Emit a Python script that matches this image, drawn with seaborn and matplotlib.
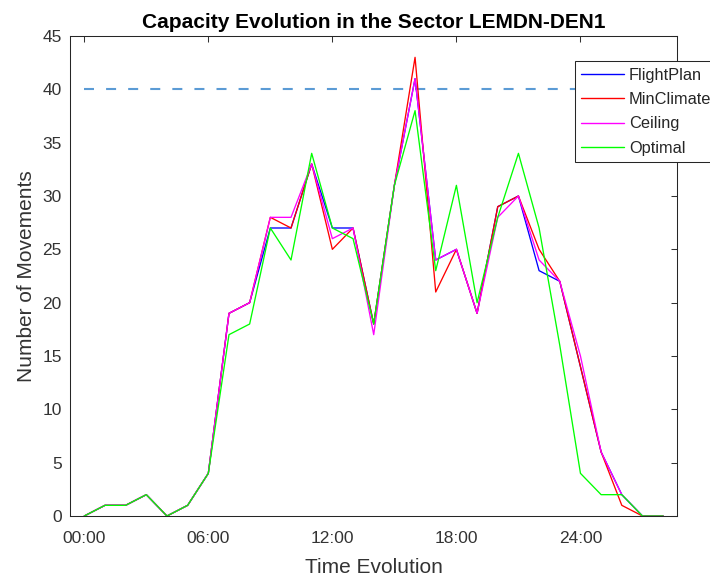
import numpy as np
import pandas as pd
import matplotlib
matplotlib.use("Agg")
import matplotlib.pyplot as plt
import seaborn as sns

# ---- data ----
hours = list(range(0, 29))
flight_plan = [0, 1, 1, 2, 0, 1, 4, 19, 20, 27, 27, 33, 27, 27, 18, 31, 41, 24, 25, 19, 29, 30, 23, 22, 14, 6, 2, 0, 0]
min_climate = [0, 1, 1, 2, 0, 1, 4, 19, 20, 28, 27, 33, 25, 27, 18, 31, 43, 21, 25, 19, 29, 30, 25, 22, 14, 6, 1, 0, 0]
ceiling     = [0, 1, 1, 2, 0, 1, 4, 19, 20, 28, 28, 33, 26, 27, 17, 31, 41, 24, 25, 19, 28, 30, 24, 22, 15, 6, 2, 0, 0]
optimal     = [0, 1, 1, 2, 0, 1, 4, 17, 18, 27, 24, 34, 27, 26, 18, 31, 38, 23, 31, 20, 28, 34, 27, 16, 4, 2, 2, 0, 0]
series_names = ["FlightPlan", "MinClimate", "Ceiling", "Optimal"]
series_colors = ["#0000ff", "#ff0000", "#ff00ff", "#00ff00"]
capacity = 40
tick_hours = [0, 6, 12, 18, 24]
tick_labels = ["00:00", "06:00", "12:00", "18:00", "24:00"]
y_ticks = list(range(0, 50, 5))

df = pd.DataFrame({
    "hour": hours * 4,
    "value": flight_plan + min_climate + ceiling + optimal,
    "series": sum([[n] * len(hours) for n in series_names], []),
})

sns.set_style("white")
plt.rcParams["font.family"] = ["Liberation Sans", "DejaVu Sans"]
plt.rcParams["text.color"] = "#262626"

fig = plt.figure(figsize=(7.1, 5.81), dpi=100)
ax = fig.add_axes([70 / 710, 1 - 516 / 581, (677 - 70) / 710, (516 - 36) / 581])

ax.hlines(capacity, hours[0], hours[-1], colors="#5b9bd5", linewidth=1.5,
          linestyles=(0, (4.8, 5.8)), zorder=1)

sns.lineplot(data=df, x="hour", y="value", hue="series", hue_order=series_names,
             palette=dict(zip(series_names, series_colors)), linewidth=0.95,
             ax=ax, zorder=2, legend=True)

ax.set_xlim(-0.69, 28.67)
ax.set_ylim(0, 45)
ax.set_xticks(tick_hours)
ax.set_xticklabels(tick_labels)
ax.set_yticks(y_ticks)
ax.tick_params(direction="in", top=True, right=True, length=4.3, width=0.75,
               colors="#333333", labelsize=12.5)
ax.tick_params(axis="x", pad=11)
ax.tick_params(axis="y", pad=6)
for s in ax.spines.values():
    s.set_color("#262626")
    s.set_linewidth(0.75)
    s.set_visible(True)

ax.set_xlabel("Time Evolution", fontsize=15, color="#333333", labelpad=8.5)
ax.set_ylabel("Number of Movements", fontsize=15, color="#333333", labelpad=4.5)
ax.set_title("Capacity Evolution in the Sector LEMDN-DEN1", fontsize=15,
             fontweight="bold", color="black", pad=6)

handles, labels = ax.get_legend_handles_labels()
leg = ax.legend(handles, labels, loc="upper left", bbox_to_anchor=(0.8316, 0.947),
                fontsize=11.8, frameon=True, fancybox=False, shadow=False,
                framealpha=1, edgecolor="#262626", borderpad=0.4,
                labelspacing=0.56, handlelength=2.6, handletextpad=0.3,
                borderaxespad=0)
leg.get_frame().set_linewidth(0.75)
for line in leg.get_lines():
    line.set_linewidth(1.0)

fig.savefig("out.png", dpi=100, facecolor="white")
